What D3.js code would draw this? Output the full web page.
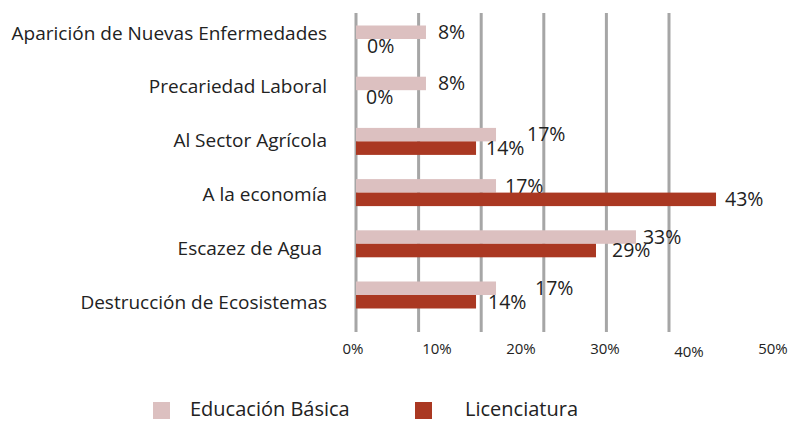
<!DOCTYPE html>
<html>
<head>
<meta charset="utf-8">
<script src="https://cdn.jsdelivr.net/npm/d3@7"></script>
<style>
  body { margin: 0; background: #fff; }
  svg { display: block; font-family: "Open Sans", sans-serif; }
  .cat { font-size: 19px; fill: #222; white-space: pre; }
  .val { font-size: 19.5px; fill: #222; }
  .tick-label { font-size: 15px; fill: #222; }
  .leg { font-size: 20px; fill: #222; }
</style>
</head>
<body>
<div id="chart"></div>
<script>
// categories, top to bottom
var categories = [
  "Aparición de Nuevas Enfermedades",
  "Precariedad Laboral",
  "Al Sector Agrícola",
  "A la economía",
  "Escazez de Agua ",
  "Destrucción de Ecosistemas"
];
var basica = [8.33, 8.33, 16.67, 16.67, 33.33, 16.67];
var licenciatura = [0, 0, 14.29, 42.86, 28.57, 14.29];
var seriesNames = ["Educación Básica", "Licenciatura"];
var tickValues = [0, 10, 20, 30, 40, 50];

var width = 795, height = 421;
var colors = ["#dcc0c0", "#aa3822"];

// label x nudges (the original has some labels pushed off the bar end)
var labelDx = [[12, 12, 31, 9, 7, 39], [11, 10, 10, 9, 16, 12]];

var svg = d3.select("#chart").append("svg")
    .attr("width", width).attr("height", height);

// value scale
var x = d3.scaleLinear().domain([0, 50]).range([356, 776]);

// row bands
var y = d3.scaleBand().domain(d3.range(categories.length))
    .range([13.4, 320.6]);
var barH = 13.5;

// category labels sit on their own spacing
var yLab = d3.scalePoint().domain(d3.range(categories.length)).range([33, 302]);

// gridlines (6 evenly spaced lines)
var grid = d3.scaleLinear().domain([0, 5]).range([356, 669]);
svg.append("g").selectAll("line").data(d3.range(6)).enter().append("line")
    .attr("x1", d => grid(d)).attr("x2", d => grid(d))
    .attr("y1", 13).attr("y2", 332)
    .attr("stroke", "#a6a6a6").attr("stroke-width", 3);

// bars
[basica, licenciatura].forEach(function (vals, s) {
  var g = svg.append("g");
  g.selectAll("rect").data(vals).enter().append("rect")
    .attr("x", x(0))
    .attr("y", (d, i) => y(i) + y.bandwidth() / 2 - barH + s * barH)
    .attr("width", d => x(d) - x(0))
    .attr("height", barH)
    .attr("fill", colors[s]);
  g.selectAll("text").data(vals).enter().append("text")
    .attr("class", "val")
    .attr("x", (d, i) => x(d) + labelDx[s][i])
    .attr("y", (d, i) => y(i) + y.bandwidth() / 2 - barH / 2 + s * barH)
    .attr("dy", "0.35em")
    .text(d => Math.round(d) + "%");
});

// category labels
svg.append("g").selectAll("text").data(categories).enter().append("text")
    .attr("class", "cat")
    .attr("x", 327)
    .attr("y", (d, i) => yLab(i))
    .attr("dy", "0.35em")
    .attr("text-anchor", "end")
    .text(d => d);

// tick labels
svg.append("g").selectAll("text").data(tickValues).enter().append("text")
    .attr("class", "tick-label")
    .attr("x", d => x(d) - 3)
    .attr("y", d => d === 40 ? 352 : 349)
    .attr("dy", "0.35em")
    .attr("text-anchor", "middle")
    .text(d => d + "%");

// legend
var legX = [153, 415];
var leg = svg.append("g").selectAll("g").data(seriesNames).enter().append("g")
    .attr("transform", (d, i) => `translate(${legX[i]}, 402)`);
leg.append("rect").attr("width", 17).attr("height", 17)
    .attr("fill", (d, i) => colors[i]);
leg.append("text").attr("class", "leg")
    .attr("x", (d, i) => i === 0 ? 37 : 50)
    .attr("y", 13.5)
    .text(d => d);
</script>
</body>
</html>
